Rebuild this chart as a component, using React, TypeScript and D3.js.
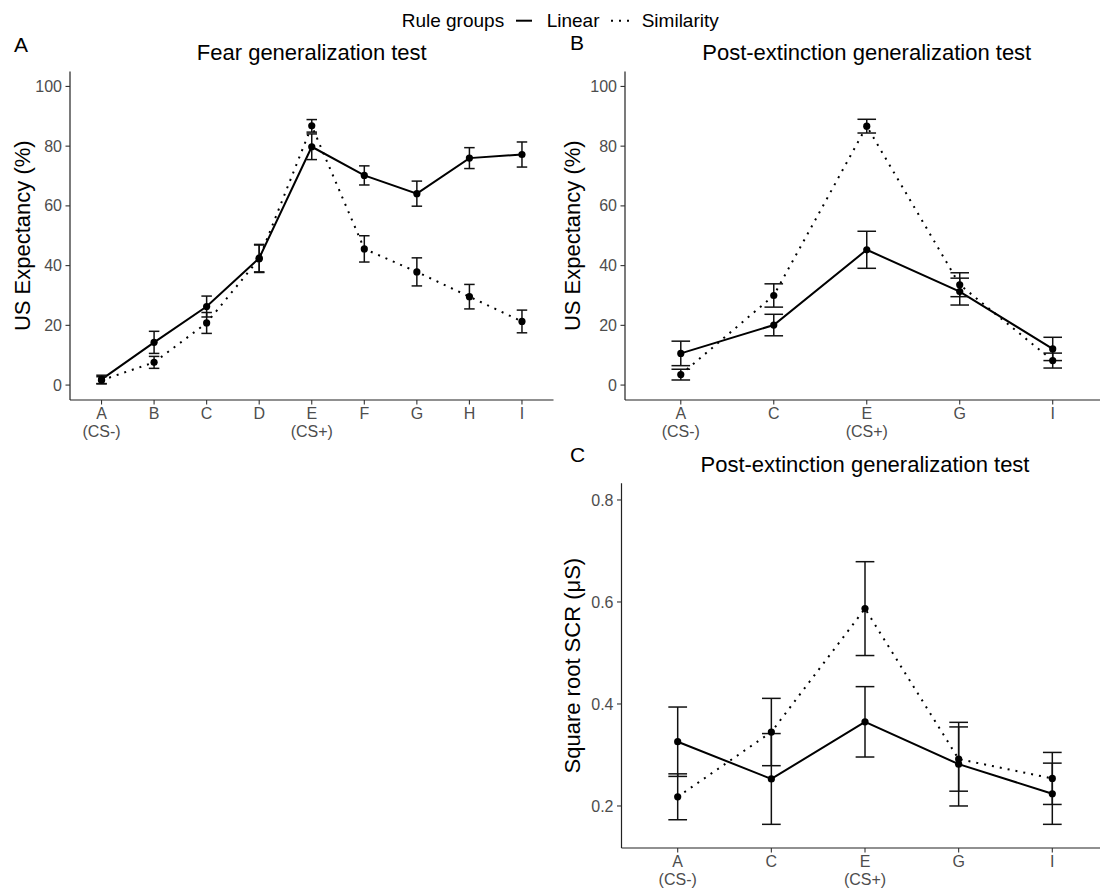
import React from "react";
import * as d3 from "d3";

// ---------- data ----------
const catsA = ["A", "B", "C", "D", "E", "F", "G", "H", "I"];
const catsBC = ["A", "C", "E", "G", "I"];
const subLabels: Record<string, string> = { A: "(CS-)", E: "(CS+)" };

const linearA = [1.9, 14.3, 26.3, 42.5, 79.8, 70.2, 64.1, 76.0, 77.2];
const linearAErr = [1.4, 3.7, 3.5, 4.6, 4.3, 3.2, 4.2, 3.5, 4.2];
const simA = [1.6, 7.6, 20.8, 42.3, 86.8, 45.6, 37.9, 29.6, 21.3];
const simAErr = [1.2, 2.0, 3.5, 4.6, 2.1, 4.4, 4.7, 4.1, 3.8];

const linearB = [10.6, 20.1, 45.3, 31.3, 12.1];
const linearBErr = [4.1, 3.6, 6.2, 4.5, 3.9];
const simB = [3.5, 30.0, 86.7, 33.6, 8.2];
const simBErr = [1.8, 3.9, 2.3, 4.0, 2.5];

const linearC = [0.326, 0.253, 0.365, 0.282, 0.224];
const linearCErr = [0.068, 0.089, 0.069, 0.082, 0.06];
const simC = [0.218, 0.345, 0.587, 0.292, 0.254];
const simCErr = [0.045, 0.066, 0.092, 0.063, 0.051];

const ticksUS = [0, 20, 40, 60, 80, 100];
const ticksSCR = [0.2, 0.4, 0.6, 0.8];

const FONT = "'Liberation Sans', Arial, Helvetica, sans-serif";
const DOT = "2,6";

type PanelProps = {
  cats: string[];
  lin: number[];
  linErr: number[];
  sim: number[];
  simErr: number[];
  yDomain: [number, number];
  left: number;
  right: number;
  top: number;
  bottom: number;
  ticks: number[];
  fmt: (v: number) => string;
  title: string;
  titleY: number;
  letter: string;
  letterX: number;
  letterY: number;
  yTitle: string;
  yTitleX: number;
};

function Panel(p: PanelProps) {
  const x = d3.scalePoint<string>().domain(p.cats).range([p.left, p.right]).padding(0.6);
  const y = d3.scaleLinear().domain(p.yDomain).range([p.bottom, p.top]);
  const capW = x.step() * 0.2;
  const line = d3
    .line<number>()
    .x((_, i) => x(p.cats[i]) as number)
    .y((d) => y(d));
  const series = [
    { vals: p.lin, errs: p.linErr, dash: undefined as string | undefined },
    { vals: p.sim, errs: p.simErr, dash: DOT },
  ];
  const midY = (p.top + p.bottom) / 2;
  return (
    <g>
      <text x={p.letterX} y={p.letterY} fontSize={21} fontFamily={FONT} fill="#000">
        {p.letter}
      </text>
      <text
        x={(p.left + p.right) / 2}
        y={p.titleY}
        fontSize={22}
        fontFamily={FONT}
        textAnchor="middle"
        fill="#000"
      >
        {p.title}
      </text>
      <text
        transform={`translate(${p.yTitleX},${midY}) rotate(-90)`}
        fontSize={22}
        fontFamily={FONT}
        textAnchor="middle"
        fill="#000"
      >
        {p.yTitle}
      </text>
      {/* axes */}
      <line x1={p.left} x2={p.left} y1={p.top} y2={p.bottom} stroke="#222" strokeWidth={1.2} />
      <line x1={p.left} x2={p.right} y1={p.bottom} y2={p.bottom} stroke="#222" strokeWidth={1.2} />
      {p.ticks.map((t) => (
        <g key={t}>
          <line x1={p.left - 4.5} x2={p.left} y1={y(t)} y2={y(t)} stroke="#333" strokeWidth={1.1} />
          <text
            x={p.left - 8}
            y={y(t)}
            dy="0.35em"
            fontSize={16}
            fontFamily={FONT}
            textAnchor="end"
            fill="#4D4D4D"
          >
            {p.fmt(t)}
          </text>
        </g>
      ))}
      {p.cats.map((c) => (
        <g key={c}>
          <line
            x1={x(c)}
            x2={x(c)}
            y1={p.bottom}
            y2={p.bottom + 4.5}
            stroke="#333"
            strokeWidth={1.1}
          />
          <text
            x={x(c)}
            y={p.bottom + 19}
            fontSize={16}
            fontFamily={FONT}
            textAnchor="middle"
            fill="#4D4D4D"
          >
            {c}
          </text>
          {subLabels[c] && (
            <text
              x={x(c)}
              y={p.bottom + 37}
              fontSize={16}
              fontFamily={FONT}
              textAnchor="middle"
              fill="#4D4D4D"
            >
              {subLabels[c]}
            </text>
          )}
        </g>
      ))}
      {/* lines */}
      {series.map((s, k) => (
        <path
          key={"l" + k}
          d={line(s.vals) || ""}
          fill="none"
          stroke="#000"
          strokeWidth={2}
          strokeDasharray={s.dash}
        />
      ))}
      {/* error bars */}
      {series.map((s, k) =>
        s.vals.map((v, i) => {
          const cx = x(p.cats[i]) as number;
          const y1 = y(v + s.errs[i]);
          const y2 = y(v - s.errs[i]);
          return (
            <g key={`e${k}-${i}`} stroke="#111" strokeWidth={1.5}>
              <line x1={cx} x2={cx} y1={y1} y2={y2} />
              <line x1={cx - capW / 2} x2={cx + capW / 2} y1={y1} y2={y1} />
              <line x1={cx - capW / 2} x2={cx + capW / 2} y1={y2} y2={y2} />
            </g>
          );
        })
      )}
      {/* points */}
      {series.map((s, k) =>
        s.vals.map((v, i) => (
          <circle key={`p${k}-${i}`} cx={x(p.cats[i]) as number} cy={y(v)} r={3.6} fill="#000" />
        ))
      )}
    </g>
  );
}

export default function App() {
  const fmtInt = (v: number) => String(v);
  const fmt1 = (v: number) => v.toFixed(1);
  return (
    <svg
      width={1100}
      height={890}
      style={{ position: "absolute", left: 0, top: 0, background: "#fff" }}
    >
      <rect width={1100} height={890} fill="#fff" />
      {/* legend */}
      <g fontFamily={FONT} fontSize={19} fill="#000">
        <text x={401.7} y={27.3}>Rule groups</text>
        <line x1={516} x2={532} y1={20.7} y2={20.7} stroke="#000" strokeWidth={2} />
        <text x={546.7} y={27.3}>Linear</text>
        <line x1={611} x2={630} y1={20.7} y2={20.7} stroke="#000" strokeWidth={2} strokeDasharray={DOT} />
        <text x={641.7} y={27.3}>Similarity</text>
      </g>
      <Panel
        cats={catsA}
        lin={linearA}
        linErr={linearAErr}
        sim={simA}
        simErr={simAErr}
        yDomain={[-5, 105]}
        left={70}
        right={553.5}
        top={71.5}
        bottom={400}
        ticks={ticksUS}
        fmt={fmtInt}
        title="Fear generalization test"
        titleY={60}
        letter="A"
        letterX={14}
        letterY={52}
        yTitle="US Expectancy (%)"
        yTitleX={30}
      />
      <Panel
        cats={catsBC}
        lin={linearB}
        linErr={linearBErr}
        sim={simB}
        simErr={simBErr}
        yDomain={[-5, 105]}
        left={625}
        right={1108.5}
        top={71.5}
        bottom={400}
        ticks={ticksUS}
        fmt={fmtInt}
        title="Post-extinction generalization test"
        titleY={60}
        letter="B"
        letterX={570}
        letterY={50}
        yTitle="US Expectancy (%)"
        yTitleX={580}
      />
      <Panel
        cats={catsBC}
        lin={linearC}
        linErr={linearCErr}
        sim={simC}
        simErr={simCErr}
        yDomain={[0.1176, 0.8327]}
        left={621.5}
        right={1108.5}
        top={483.3}
        bottom={848}
        ticks={ticksSCR}
        fmt={fmt1}
        title="Post-extinction generalization test"
        titleY={472}
        letter="C"
        letterX={570}
        letterY={462}
        yTitle="Square root SCR (μS)"
        yTitleX={580}
      />
    </svg>
  );
}
